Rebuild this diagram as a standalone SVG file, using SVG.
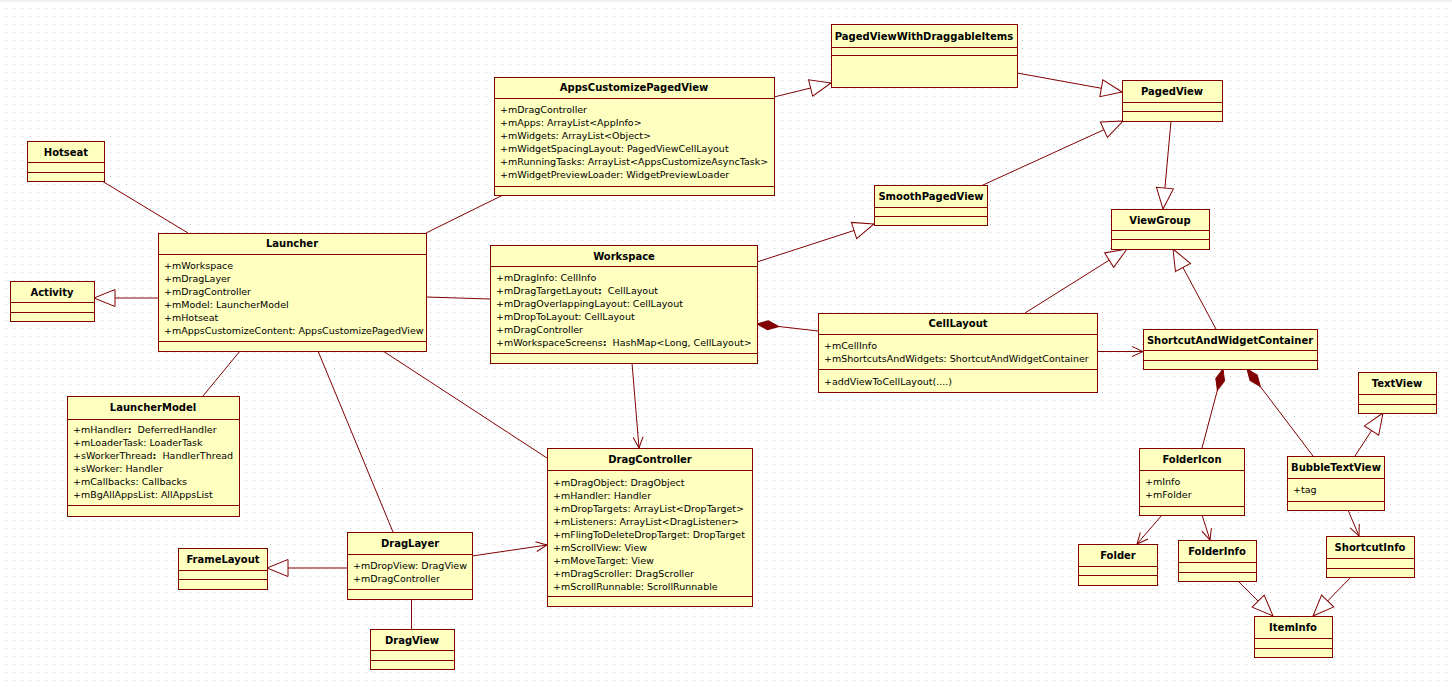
<svg xmlns="http://www.w3.org/2000/svg" width="1452" height="687" viewBox="0 0 1452 687">
<defs>
<style>
.box{fill:#FFFFC0;stroke:#800000;stroke-width:1}
.sep{stroke:#800000;stroke-width:1}
.t{font-family:"DejaVu Sans","Noto Sans CJK SC",sans-serif;font-size:10px;font-weight:bold;text-anchor:middle;fill:#000}
.a{font-family:"DejaVu Sans","Noto Sans CJK SC",sans-serif;font-size:9.5px;fill:#000}
.b{font-weight:bold}
.c{stroke:#800000;stroke-width:1;fill:none}
.g{marker-end:url(#gen)}
.o{marker-end:url(#open)}
.d{marker-start:url(#dia)}
</style>
<pattern id="dots" x="6" y="0" width="8" height="8" patternUnits="userSpaceOnUse">
<rect x="0" y="0" width="1" height="1" fill="#c0c0c0"/>
</pattern>
<marker id="gen" markerUnits="userSpaceOnUse" markerWidth="24" markerHeight="20" refX="22" refY="10" orient="auto" overflow="visible">
<path d="M22,10 L1,1.5 L1,18.5 Z" fill="#fff" stroke="#800000"/>
</marker>
<marker id="open" markerUnits="userSpaceOnUse" markerWidth="14" markerHeight="12" refX="11" refY="5.5" orient="auto" overflow="visible">
<path d="M0,0.5 L11,5.5 L0,10.5" fill="none" stroke="#800000"/>
</marker>
<marker id="dia" markerUnits="userSpaceOnUse" markerWidth="24" markerHeight="12" refX="0" refY="5" orient="auto" overflow="visible">
<path d="M0,5 L11,0.5 L22,5 L11,9.5 Z" fill="#800000" stroke="#800000"/>
</marker>
</defs>
<rect width="1452" height="687" fill="#fff"/>
<rect width="1452" height="687" fill="url(#dots)"/>
<rect width="1452" height="2" fill="#f0f0f0"/>

<g id="connectors">
<path class="c g" d="M774,97 L831,83"/>
<path class="c g" d="M1017,73 L1122,92"/>
<path class="c g" d="M983,185 L1123,121"/>
<path class="c g" d="M1171,121 L1163,209"/>
<path class="c g" d="M757,262 L874,224"/>
<path class="c g" d="M1025,313 L1127,249"/>
<path class="c g" d="M1216,329 L1173,249"/>
<path class="c g" d="M158,298 L94,298"/>
<path class="c g" d="M347,568 L267,568"/>
<path class="c g" d="M1355,456 L1383,413"/>
<path class="c g" d="M1238,581 L1273,616"/>
<path class="c g" d="M1351,577 L1313,616"/>
<path class="c" d="M102,181 L188,233"/>
<path class="c" d="M426,233 L503,195"/>
<path class="c" d="M426,297 L490,299"/>
<path class="c" d="M240,351 L203,396"/>
<path class="c" d="M318,351 L393,532"/>
<path class="c" d="M383,351 L547,458"/>
<path class="c" d="M411.5,599 L411.5,629"/>
<path class="c o" d="M632,363 L639,448"/>
<path class="c o" d="M472,556 L547,545"/>
<path class="c o" d="M1097,351.5 L1143,351.5"/>
<path class="c o" d="M1162,515 L1137,544"/>
<path class="c o" d="M1202,515 L1210,540"/>
<path class="c o" d="M1348,510 L1359,536"/>
<path class="c d" d="M757,324 L818,331"/>
<path class="c d" d="M1223,369 L1202,448"/>
<path class="c d" d="M1247,369 L1313,456"/>
</g>

<g id="PagedViewWithDraggableItems">
<rect class="box" x="831.5" y="24.5" width="186" height="63"/>
<path class="sep" d="M831,47.5 H1018 M831,55.5 H1018"/>
<text class="t" x="924" y="39.5">PagedViewWithDraggableItems</text>
</g>

<g id="AppsCustomizePagedView">
<rect class="box" x="494.5" y="77.5" width="280" height="118"/>
<path class="sep" d="M494,98.5 H775 M494,186.5 H775"/>
<text class="t" x="634" y="91">AppsCustomizePagedView</text>
<text class="a" x="500" y="113">+mDragController</text>
<text class="a" x="500" y="126">+mApps: ArrayList&lt;AppInfo&gt;</text>
<text class="a" x="500" y="139">+mWidgets: ArrayList&lt;Object&gt;</text>
<text class="a" x="500" y="152">+mWidgetSpacingLayout: PagedViewCellLayout</text>
<text class="a" x="500" y="165">+mRunningTasks: ArrayList&lt;AppsCustomizeAsyncTask&gt;</text>
<text class="a" x="500" y="178">+mWidgetPreviewLoader: WidgetPreviewLoader</text>
</g>

<g id="PagedView">
<rect class="box" x="1122.5" y="80.5" width="100" height="41"/>
<path class="sep" d="M1122,102.5 H1223 M1122,111.5 H1223"/>
<text class="t" x="1172" y="95">PagedView</text>
</g>

<g id="Hotseat">
<rect class="box" x="27.5" y="141.5" width="77" height="40"/>
<path class="sep" d="M27,162.5 H105 M27,172.5 H105"/>
<text class="t" x="66" y="155.5">Hotseat</text>
</g>

<g id="SmoothPagedView">
<rect class="box" x="874.5" y="185.5" width="113" height="40"/>
<path class="sep" d="M874,207.5 H988 M874,216.5 H988"/>
<text class="t" x="931" y="200">SmoothPagedView</text>
</g>

<g id="ViewGroup">
<rect class="box" x="1111.5" y="209.5" width="98" height="40"/>
<path class="sep" d="M1111,230.5 H1210 M1111,239.5 H1210"/>
<text class="t" x="1160" y="223.5">ViewGroup</text>
</g>

<g id="Launcher">
<rect class="box" x="158.5" y="233.5" width="268" height="118"/>
<path class="sep" d="M158,254.5 H427 M158,341.5 H427"/>
<text class="t" x="292" y="247">Launcher</text>
<text class="a" x="164" y="269">+mWorkspace</text>
<text class="a" x="164" y="282">+mDragLayer</text>
<text class="a" x="164" y="295">+mDragController</text>
<text class="a" x="164" y="308">+mModel: LauncherModel</text>
<text class="a" x="164" y="321">+mHotseat</text>
<text class="a" x="164" y="334">+mAppsCustomizeContent: AppsCustomizePagedView</text>
</g>

<g id="Activity">
<rect class="box" x="10.5" y="281.5" width="84" height="40"/>
<path class="sep" d="M10,302.5 H95 M10,312.5 H95"/>
<text class="t" x="52" y="295.5">Activity</text>
</g>

<g id="Workspace">
<rect class="box" x="490.5" y="245.5" width="267" height="118"/>
<path class="sep" d="M490,266.5 H758 M490,353.5 H758"/>
<text class="t" x="624" y="260">Workspace</text>
<text class="a" x="496" y="281">+mDragInfo: CellInfo</text>
<text class="a" x="496" y="294" xml:space="preserve">+mDragTargetLayout<tspan class="b">:</tspan>  CellLayout</text>
<text class="a" x="496" y="307">+mDragOverlappingLayout: CellLayout</text>
<text class="a" x="496" y="320">+mDropToLayout: CellLayout</text>
<text class="a" x="496" y="333">+mDragController</text>
<text class="a" x="496" y="346" xml:space="preserve">+mWorkspaceScreens<tspan class="b">:</tspan>  HashMap&lt;Long, CellLayout&gt;</text>
</g>

<g id="CellLayout">
<rect class="box" x="818.5" y="313.5" width="279" height="79"/>
<path class="sep" d="M818,334.5 H1098 M818,369.5 H1098"/>
<text class="t" x="958" y="327">CellLayout</text>
<text class="a" x="824" y="349">+mCellInfo</text>
<text class="a" x="824" y="362">+mShortcutsAndWidgets: ShortcutAndWidgetContainer</text>
<text class="a" x="824" y="385">+addViewToCellLayout(....)</text>
</g>

<g id="ShortcutAndWidgetContainer">
<rect class="box" x="1143.5" y="329.5" width="174" height="40"/>
<path class="sep" d="M1143,350.5 H1318 M1143,360.5 H1318"/>
<text class="t" x="1230" y="343.5">ShortcutAndWidgetContainer</text>
</g>

<g id="TextView">
<rect class="box" x="1358.5" y="372.5" width="78" height="41"/>
<path class="sep" d="M1358,394.5 H1437 M1358,404.5 H1437"/>
<text class="t" x="1397" y="387">TextView</text>
</g>

<g id="LauncherModel">
<rect class="box" x="67.5" y="396.5" width="172" height="120"/>
<path class="sep" d="M67,419.5 H240 M67,505.5 H240"/>
<text class="t" x="153" y="411">LauncherModel</text>
<text class="a" x="73" y="433" xml:space="preserve">+mHandler<tspan class="b">:</tspan>  DeferredHandler</text>
<text class="a" x="73" y="446">+mLoaderTask: LoaderTask</text>
<text class="a" x="73" y="459" xml:space="preserve">+sWorkerThread<tspan class="b">:</tspan>  HandlerThread</text>
<text class="a" x="73" y="472">+sWorker: Handler</text>
<text class="a" x="73" y="485">+mCallbacks: Callbacks</text>
<text class="a" x="73" y="498">+mBgAllAppsList: AllAppsList</text>
</g>

<g id="DragController">
<rect class="box" x="547.5" y="448.5" width="205" height="158"/>
<path class="sep" d="M547,470.5 H753 M547,596.5 H753"/>
<text class="t" x="650" y="463">DragController</text>
<text class="a" x="553" y="486">+mDragObject: DragObject</text>
<text class="a" x="553" y="499">+mHandler: Handler</text>
<text class="a" x="553" y="512">+mDropTargets: ArrayList&lt;DropTarget&gt;</text>
<text class="a" x="553" y="525">+mListeners: ArrayList&lt;DragListener&gt;</text>
<text class="a" x="553" y="538">+mFlingToDeleteDropTarget: DropTarget</text>
<text class="a" x="553" y="551">+mScrollView: View</text>
<text class="a" x="553" y="564">+mMoveTarget: View</text>
<text class="a" x="553" y="577">+mDragScroller: DragScroller</text>
<text class="a" x="553" y="590">+mScrollRunnable: ScrollRunnable</text>
</g>

<g id="FolderIcon">
<rect class="box" x="1139.5" y="448.5" width="105" height="67"/>
<path class="sep" d="M1139,470.5 H1245 M1139,506.5 H1245"/>
<text class="t" x="1192" y="463">FolderIcon</text>
<text class="a" x="1145" y="485">+mInfo</text>
<text class="a" x="1145" y="498">+mFolder</text>
</g>

<g id="BubbleTextView">
<rect class="box" x="1287.5" y="456.5" width="97" height="54"/>
<path class="sep" d="M1287,478.5 H1385 M1287,501.5 H1385"/>
<text class="t" x="1336" y="471">BubbleTextView</text>
<text class="a" x="1293" y="493">+tag</text>
</g>

<g id="DragLayer">
<rect class="box" x="347.5" y="532.5" width="125" height="67"/>
<path class="sep" d="M347,554.5 H473 M347,589.5 H473"/>
<text class="t" x="410" y="547">DragLayer</text>
<text class="a" x="353" y="569">+mDropView: DragView</text>
<text class="a" x="353" y="582">+mDragController</text>
</g>

<g id="FrameLayout">
<rect class="box" x="178.5" y="548.5" width="89" height="41"/>
<path class="sep" d="M178,570.5 H268 M178,579.5 H268"/>
<text class="t" x="223" y="563">FrameLayout</text>
</g>

<g id="Folder">
<rect class="box" x="1078.5" y="544.5" width="79" height="41"/>
<path class="sep" d="M1078,566.5 H1158 M1078,575.5 H1158"/>
<text class="t" x="1118" y="559">Folder</text>
</g>

<g id="FolderInfo">
<rect class="box" x="1178.5" y="540.5" width="78" height="41"/>
<path class="sep" d="M1178,562.5 H1257 M1178,572.5 H1257"/>
<text class="t" x="1217" y="555">FolderInfo</text>
</g>

<g id="ShortcutInfo">
<rect class="box" x="1326.5" y="536.5" width="88" height="41"/>
<path class="sep" d="M1326,558.5 H1415 M1326,568.5 H1415"/>
<text class="t" x="1370" y="551">ShortcutInfo</text>
</g>

<g id="ItemInfo">
<rect class="box" x="1254.5" y="616.5" width="78" height="41"/>
<path class="sep" d="M1254,638.5 H1333 M1254,648.5 H1333"/>
<text class="t" x="1293" y="631">ItemInfo</text>
</g>

<g id="DragView">
<rect class="box" x="370.5" y="629.5" width="84" height="40"/>
<path class="sep" d="M370,650.5 H455 M370,660.5 H455"/>
<text class="t" x="412" y="643.5">DragView</text>
</g>
</svg>
